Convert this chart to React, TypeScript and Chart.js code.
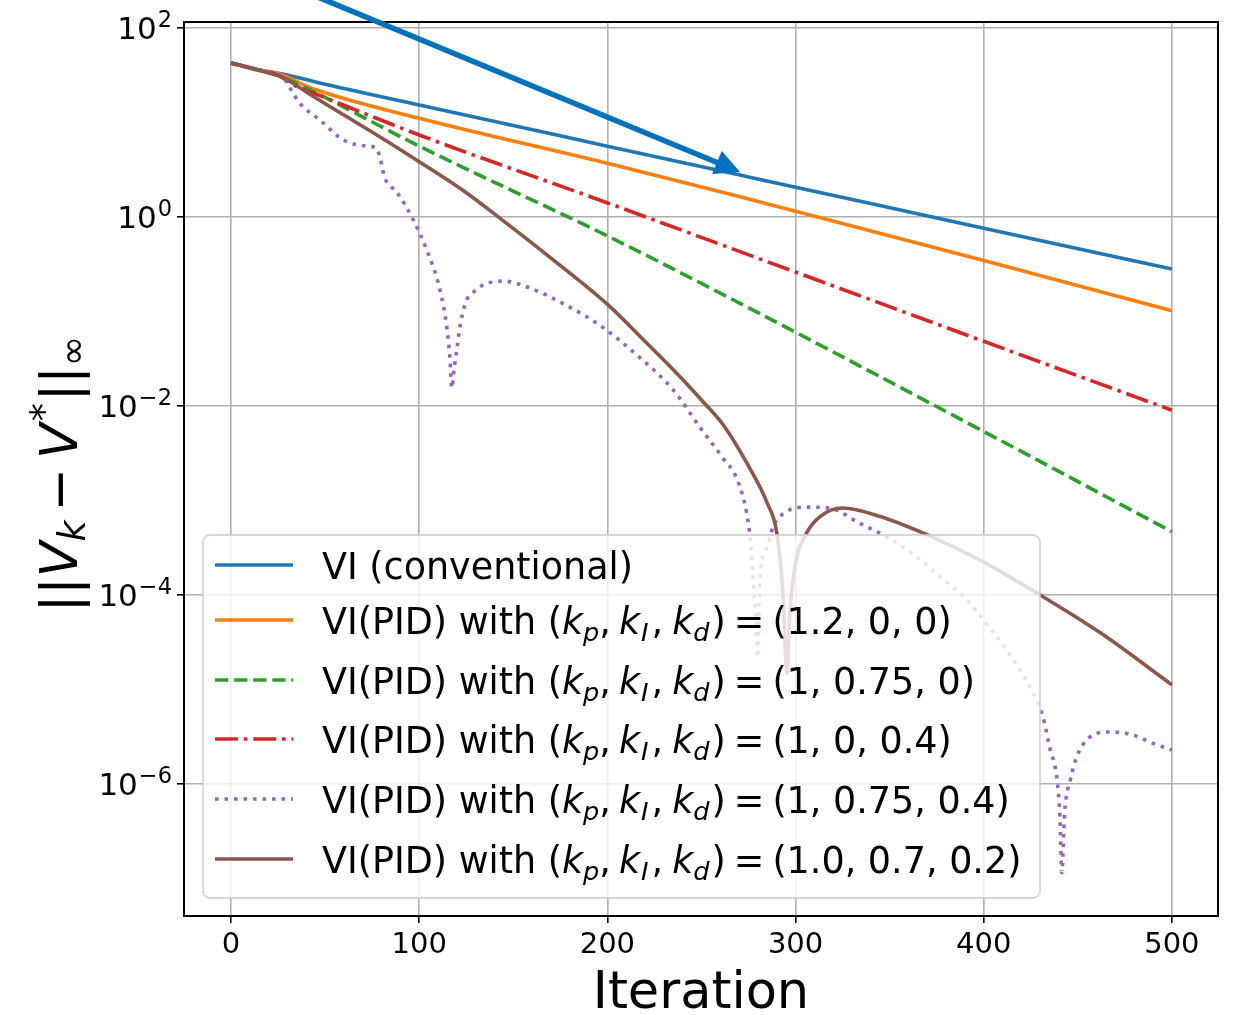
import React, { useEffect, useRef } from 'react';
import { Chart, registerables } from 'chart.js';

Chart.register(...registerables);

const FONT = '"DejaVu Sans", "Noto Sans", sans-serif';

// ---------- data ----------
const VI_X = [0, 15, 26, 50, 100, 200, 270.5, 300, 400, 500];
const VI_Y = [42.7, 35.9, 33.1, 25.4, 15.3, 5.62, 2.78, 2.07, 0.759, 0.282];

const P12_X = [0, 15, 26, 44, 100, 200, 270.5, 400, 500];
const P12_Y = [42.7, 35.9, 32.4, 22.6, 11.09, 3.7, 1.64, 0.347, 0.102];

const PI_X = [0, 15, 26, 44, 65, 100, 200, 270.5, 400, 500];
const PI_Y = [42.7, 35.9, 30.9, 21.2, 12.9, 5.62, 0.631, 0.122, 5.37e-3, 4.68e-4];

const PD_X = [0, 15, 25, 35, 44, 100, 200.5, 270.5, 400, 500];
const PD_Y = [42.7, 35.9, 31.62, 23.99, 20.4, 7.38, 1.4, 0.43, 0.0484, 0.00902];

const PID_X = [
  0, 20, 28, 31.4, 36.7, 47.3, 59.7, 72, 77.4, 79.2, 81.8, 88, 96.9, 104, 111, 114.6, 116.4,
  117.3, 118.5, 119.9, 122, 125.2, 128.5, 134, 144.7, 157, 178, 197, 215.6, 235, 249, 261,
  269, 274, 276, 277.5, 279, 279.8, 281, 285, 288, 295, 306, 318, 334, 349, 362, 377, 391,
  402, 412, 424.5, 431.5, 435, 439, 440.5, 441.5, 443, 446, 449.5, 456, 467, 479, 490, 500,
];
const PID_Y = [
  42.7, 33.9, 29.5, 23.0, 15.85, 10.6, 6.53, 5.64, 5.33, 4.18, 2.57, 1.85, 0.929, 0.447, 0.17,
  0.0692, 0.0309, 0.0155, 0.0245, 0.0389, 0.0759, 0.132, 0.158, 0.191, 0.21, 0.183, 0.117,
  0.0692, 0.0347, 0.0148, 6.03e-3, 2.88e-3, 1.66e-3, 7.41e-4, 3.8e-4, 1.45e-4, 5.01e-5,
  2.19e-5, 1.45e-4, 3.24e-4, 5.25e-4, 7.59e-4, 8.51e-4, 8.32e-4, 5.75e-4, 4.07e-4, 2.75e-4,
  1.55e-4, 8.91e-5, 4.79e-5, 2.63e-5, 1.07e-5, 5.13e-6, 2.45e-6, 1.1e-6, 4.47e-7, 1.15e-7,
  4.9e-7, 1.1e-6, 1.95e-6, 3.09e-6, 3.55e-6, 3.31e-6, 2.69e-6, 2.29e-6,
];

const PID2_X = [
  0, 15, 26, 44, 61.5, 79, 100, 123, 143, 168, 200.5, 221, 238.6, 250, 261.6, 274, 285, 290,
  293.3, 295.4, 297, 299.7, 306, 313, 325, 345, 373, 398, 430, 462, 500,
];
const PID2_Y = [
  42.7, 35.5, 30.9, 18.75, 11.51, 7.08, 3.85, 1.93, 0.968, 0.396, 0.117, 0.0461, 0.0204,
  0.01156, 6.29e-3, 2.51e-3, 9.33e-4, 4.57e-4, 1.05e-4, 1.48e-5, 6.46e-5, 2.0e-4, 4.57e-4,
  6.76e-4, 8.32e-4, 6.76e-4, 4.07e-4, 2.34e-4, 1.0e-4, 3.98e-5, 1.12e-5,
];

const LABELS = [
  'VI (conventional)',
  'VI(PID) with (k_p, k_I, k_d) = (1.2, 0, 0)',
  'VI(PID) with (k_p, k_I, k_d) = (1, 0.75, 0)',
  'VI(PID) with (k_p, k_I, k_d) = (1, 0, 0.4)',
  'VI(PID) with (k_p, k_I, k_d) = (1, 0.75, 0.4)',
  'VI(PID) with (k_p, k_I, k_d) = (1.0, 0.7, 0.2)',
];
const SERIES_X = [VI_X, P12_X, PI_X, PD_X, PID_X, PID2_X];
const SERIES_Y = [VI_Y, P12_Y, PI_Y, PD_Y, PID_Y, PID2_Y];

const X_TICKS = [0, 100, 200, 300, 400, 500];
const Y_TICKS = [1e-6, 1e-4, 1e-2, 1, 100];

const ARROW_FROM = { x: 37.2, y: 252 };
const ARROW_TO = { x: 270.5, y: 2.99 };

// ---------- styles ----------
const COLORS = ['#1f77b4', '#ff7f0e', '#2ca02c', '#d62728', '#9467bd', '#8c564b'];
const LW = 3.6;
const DASHES: number[][] = [[], [], [13.3, 5.8], [23, 5.8, 3.6, 5.8], [3.6, 5.9], []];

type Part = { t: string; size: number; italic?: boolean; dy?: number; gap?: number };

function drawParts(ctx: CanvasRenderingContext2D, parts: Part[], x: number, y: number, draw = true) {
  let cx = x;
  for (const p of parts) {
    cx += p.gap || 0;
    ctx.font = `${p.italic ? 'italic ' : ''}${p.size}px ${FONT}`;
    if (draw) ctx.fillText(p.t, cx, y + (p.dy || 0));
    cx += ctx.measureText(p.t).width;
  }
  return cx - x;
}

function labelParts(label: string, size: number): Part[] {
  const m = label.match(/^(.*?)\(k_p, k_I, k_d\) = (.*)$/);
  if (!m) return [{ t: label, size }];
  const s = size * 0.7;
  const d = size * 0.2;
  return [
    { t: m[1] + '(', size },
    { t: 'k', size, italic: true },
    { t: 'p', size: s, italic: true, dy: d },
    { t: ',', size },
    { t: 'k', size, italic: true, gap: 8 },
    { t: 'I', size: s, italic: true, dy: d, gap: 1 },
    { t: ',', size, gap: 3 },
    { t: 'k', size, italic: true, gap: 9 },
    { t: 'd', size: s, italic: true, dy: d },
    { t: ')', size, gap: 2 },
    { t: '=', size, gap: 8 },
    { t: m[2], size, gap: 8 },
  ];
}

const overlay = {
  id: 'overlay',
  afterDatasetsDraw(chart: any) {
    const { ctx, chartArea: ca } = chart;
    ctx.save();
    // legend box
    const bx = ca.left + 19;
    const by = ca.top + 513;
    const bw = 837;
    const bh = 363;
    ctx.beginPath();
    ctx.roundRect(bx, by, bw, bh, 7);
    ctx.fillStyle = 'rgba(255,255,255,0.8)';
    ctx.fill();
    ctx.lineWidth = 1.8;
    ctx.strokeStyle = 'rgba(204,204,204,0.8)';
    ctx.stroke();
    const rows = [30, 85, 145, 204, 264, 324];
    const fs = 36.5;
    LABELS.forEach((lab, i) => {
      const cy = by + rows[i];
      ctx.beginPath();
      ctx.setLineDash(DASHES[i]);
      ctx.lineCap = 'butt';
      ctx.lineWidth = LW;
      ctx.strokeStyle = COLORS[i];
      ctx.moveTo(bx + 12, cy);
      ctx.lineTo(bx + 90, cy);
      ctx.stroke();
      ctx.setLineDash([]);
      ctx.fillStyle = '#000';
      ctx.textAlign = 'left';
      ctx.textBaseline = 'alphabetic';
      drawParts(ctx, labelParts(lab, fs), bx + 119, cy + 13.5);
    });
    // spines
    ctx.strokeStyle = '#000';
    ctx.lineWidth = 2;
    ctx.strokeRect(ca.left, ca.top, ca.right - ca.left, ca.bottom - ca.top);
    ctx.restore();
  },
  afterDraw(chart: any) {
    const { ctx, chartArea: ca, scales } = chart;
    ctx.save();
    // y tick labels (10^n)
    ctx.fillStyle = '#000';
    ctx.textBaseline = 'alphabetic';
    ctx.textAlign = 'left';
    for (const t of scales.y.ticks) {
      const py = scales.y.getPixelForValue(t.value);
      const e = Math.round(Math.log10(t.value));
      const parts: Part[] = [
        { t: '10', size: 31 },
        { t: (e < 0 ? '\u2212' : '') + Math.abs(e), size: 22.5, dy: -12, gap: 1 },
      ];
      const w = drawParts(ctx, parts, 0, 0, false);
      drawParts(ctx, parts, ca.left - 12 - w, py + 11);
    }
    // x title
    ctx.font = `51px ${FONT}`;
    ctx.textAlign = 'center';
    ctx.fillText('Iteration', (ca.left + ca.right) / 2, 1008);
    // y title
    const ys = 52;
    const yParts: Part[] = [
      { t: '||', size: ys },
      { t: 'V', size: ys, italic: true },
      { t: 'k', size: ys * 0.7, italic: true, dy: 8 },
      { t: '\u2212', size: ys, gap: 9 },
      { t: 'V', size: ys, italic: true, gap: 9 },
      { t: '*', size: ys * 0.7, dy: -20, gap: 2 },
      { t: '||', size: ys, gap: 2 },
      { t: '\u221e', size: ys * 0.7, dy: 8 },
    ];
    ctx.textAlign = 'left';
    const tw = drawParts(ctx, yParts, 0, 0, false);
    ctx.save();
    ctx.translate(77, (ca.top + ca.bottom) / 2 + 5);
    ctx.rotate(-Math.PI / 2);
    drawParts(ctx, yParts, -tw / 2, 0);
    ctx.restore();
    // arrow
    const x0 = scales.x.getPixelForValue(ARROW_FROM.x);
    const y0 = scales.y.getPixelForValue(ARROW_FROM.y);
    const x1 = scales.x.getPixelForValue(ARROW_TO.x);
    const y1 = scales.y.getPixelForValue(ARROW_TO.y);
    const L = Math.hypot(x1 - x0, y1 - y0);
    const ux = (x1 - x0) / L;
    const uy = (y1 - y0) / L;
    const hl = 25;
    const hw = 12.5;
    const bxp = x1 - ux * hl;
    const byp = y1 - uy * hl;
    ctx.strokeStyle = '#0072bd';
    ctx.fillStyle = '#0072bd';
    ctx.lineWidth = 5.5;
    ctx.beginPath();
    ctx.moveTo(x0, y0);
    ctx.lineTo(bxp + ux * 2, byp + uy * 2);
    ctx.stroke();
    ctx.beginPath();
    ctx.moveTo(x1, y1);
    ctx.lineTo(bxp - uy * hw, byp + ux * hw);
    ctx.lineTo(bxp + uy * hw, byp - ux * hw);
    ctx.closePath();
    ctx.fill();
    ctx.restore();
  },
};

export default function App() {
  const ref = useRef<HTMLCanvasElement>(null);
  useEffect(() => {
    const datasets = LABELS.map((label, i) => ({
      label,
      data: SERIES_X[i].map((x, j) => ({ x, y: SERIES_Y[i][j] })),
      borderColor: COLORS[i],
      backgroundColor: COLORS[i],
      borderWidth: LW,
      borderDash: DASHES[i],
      borderCapStyle: 'butt' as const,
      pointRadius: 0,
      cubicInterpolationMode: 'monotone' as const,
      fill: false,
      order: LABELS.length - i,
    }));
    const chart = new Chart(ref.current!, {
      type: 'line',
      data: { datasets },
      options: {
        responsive: false,
        animation: false,
        devicePixelRatio: 1,
        layout: { padding: { top: 22, right: 19, left: 0, bottom: 0 } },
        plugins: { legend: { display: false }, tooltip: { enabled: false } },
        scales: {
          x: {
            type: 'linear',
            min: -25,
            max: 524.5,
            afterBuildTicks: (s: any) => {
              s.ticks = X_TICKS.map((v) => ({ value: v }));
            },
            afterFit: (s: any) => {
              s.height = 99;
            },
            ticks: {
              color: '#000',
              font: { family: FONT, size: 29 },
              padding: 5,
              maxRotation: 0,
              autoSkip: false,
            },
            grid: { color: '#b0b0b0', lineWidth: 1.6, tickColor: '#000', tickLength: 7 },
            border: { display: false },
          },
          y: {
            type: 'logarithmic',
            min: 4.01e-8,
            max: 115.8,
            afterBuildTicks: (s: any) => {
              s.ticks = Y_TICKS.map((v) => ({ value: v }));
            },
            afterFit: (s: any) => {
              s.width = 184;
            },
            ticks: { display: false },
            grid: { color: '#b0b0b0', lineWidth: 1.6, tickColor: '#000', tickLength: 7 },
            border: { display: false },
          },
        },
      },
      plugins: [overlay],
    });
    return () => chart.destroy();
  }, []);
  return (
    <div style={{ position: 'absolute', left: 0, top: 0, width: 1237, height: 1015 }}>
      <canvas ref={ref} width={1237} height={1015} style={{ display: 'block', width: 1237, height: 1015 }} />
    </div>
  );
}
